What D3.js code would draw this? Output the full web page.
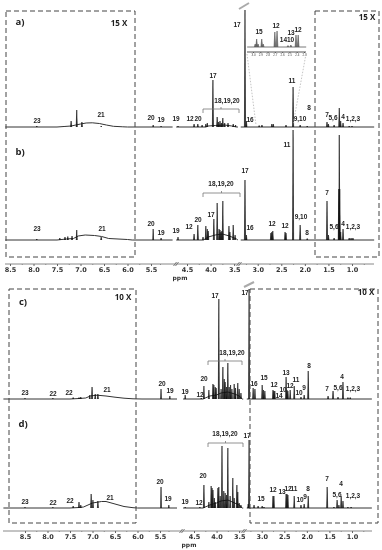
<!DOCTYPE html>
<html>
<head>
<meta charset="utf-8">
<script src="https://cdn.jsdelivr.net/npm/d3@7"></script>
<style>
  html, body { margin: 0; padding: 0; background: #fff; }
  svg { display: block; filter: blur(0.3px); }
</style>
</head>
<body>
<div id="chart"></div>
<script>
// ppm axis
const tickLabels = [8.5, 8.0, 7.5, 7.0, 6.5, 6.0, 5.5, 4.5, 4.0, 3.5, 3.0, 2.5, 2.0, 1.5, 1.0];
const minorTicks = [8.25, 7.75, 7.25, 6.75, 6.25, 5.75, 5.25, 4.25, 3.75, 3.25, 2.75, 2.25, 1.75, 1.25, 0.75];
const insetTicks = [3.0, 2.9, 2.8, 2.7, 2.6, 2.5, 2.4, 2.3];

// baseline + broad hump, [ppm, intensity], null = cut in the spectrum
const humpA = [[8.6,0],[7.5,0],[7.35,0.5],[7.2,1],[7.1,2],[7.0,3],[6.88,4],[6.75,4.2],[6.6,3.5],[6.45,2],[6.3,0.7],[6.1,0.2],[6.0,0],[4.9,0],[4.85,null],[4.8,0],[4.1,0],[4.05,1],[3.9,1.5],[3.7,2],[3.55,1],[3.45,0],[3.42,0],[3.39,null],[3.36,0],[0.53,0]];
const humpB = [[8.6,0],[7.5,0],[7.3,1],[7.15,1.5],[7.05,4],[6.9,5],[6.7,4.5],[6.55,3.5],[6.4,1.5],[6.0,0.5],[5.9,0],[4.9,0],[4.85,null],[4.8,0],[4.15,0],[4.05,3],[3.9,5],[3.75,6],[3.6,4],[3.45,1],[3.42,0],[3.39,null],[3.36,0],[0.53,0]];
const humpC = [[8.98,0],[7.5,0],[7.3,0.5],[7.15,1],[7.05,3],[6.9,3.8],[6.7,3],[6.5,1.8],[6.3,0.8],[6.1,0.2],[5.9,0],[5.0,0],[4.95,null],[4.82,0],[4.3,0],[4.15,3],[4.0,4],[3.9,6],[3.75,7],[3.6,5],[3.5,3],[3.43,0],[3.41,0],[3.38,null],[3.33,0],[0.56,0]];
const humpD = [[8.98,0],[7.5,0],[7.3,0.5],[7.2,1],[7.1,3],[7.0,5],[6.8,6.5],[6.7,6.5],[6.5,4],[6.3,1.5],[6.1,0.3],[6.0,0],[5.0,0],[4.95,null],[4.82,0],[4.3,0],[4.15,3],[4.0,5],[3.9,7],[3.75,8],[3.6,5],[3.5,3],[3.43,0],[3.41,0],[3.38,null],[3.33,0],[0.56,0]];

// resolved peaks, [ppm, intensity]
const peaksA = [[7.93,1],[7.2,6],[7.08,17],[6.97,5],[6.56,1],[5.44,2],[5.22,1],[4.75,1],[4.35,3],[4.27,3],[4.18,2],[4.10,3],[4.07,4],[3.95,47],[3.86,10],[3.83,5],[3.80,6],[3.77,4],[3.74,9],[3.70,4],[3.63,4],[3.52,3],[3.47,2],[3.27,117],[3.24,6],[2.97,1.5],[2.91,2],[2.70,3],[2.67,3],[2.40,2],[2.25,40],[2.10,2],[1.95,1],[1.53,5],[1.50,3],[1.38,2],[1.27,19],[1.24,6],[1.19,4],[1.06,1],[1.0,1]];
const peaksB = [[7.93,1],[7.44,2],[7.33,3],[7.27,3.5],[7.18,4],[7.08,10],[6.56,3],[5.44,11],[5.22,2],[4.75,3],[4.35,6],[4.27,15],[4.16,3],[4.10,14],[4.07,11],[4.05,9],[3.93,21],[3.86,37],[3.82,11],[3.80,10],[3.78,8],[3.76,9],[3.74,39],[3.61,14],[3.59,8],[3.52,15],[3.48,5],[3.27,60],[3.24,5],[2.72,7],[2.70,8],[2.68,9],[2.42,8],[2.40,7],[2.25,110],[2.10,15],[1.95,1.5],[1.53,39],[1.50,5],[1.38,2],[1.28,51],[1.27,105],[1.26,51],[1.24,8],[1.19,11],[1.06,2],[1.02,2],[0.98,2]];
const peaksC = [[8.5,0.8],[7.88,0.8],[7.43,1.5],[7.3,1.5],[7.26,2],[7.06,4],[7.01,12],[6.94,5],[6.88,5],[5.47,10],[5.21,3],[4.76,4],[4.34,1],[4.28,13],[4.17,9],[4.08,15],[4.06,14],[4.03,12],[4.01,11],[3.95,100],[3.90,10],[3.86,32],[3.83,20],[3.81,17],[3.78,12],[3.75,36],[3.72,12],[3.69,14],[3.66,10],[3.61,15],[3.58,11],[3.53,16],[3.50,10],[3.46,6],[3.28,110],[3.19,11],[3.15,10],[2.99,14],[2.96,9],[2.93,8],[2.75,9],[2.73,8],[2.71,8],[2.46,22],[2.44,9],[2.42,8],[2.37,9],[2.28,13],[2.13,2],[2.06,4],[1.97,28],[1.53,3],[1.42,8],[1.31,2],[1.20,17],[1.09,1.5],[1.04,1.5]];
const peaksD = [[8.5,0.8],[7.88,0.8],[7.43,2],[7.30,6],[7.26,3],[7.03,14],[6.99,8],[6.88,7],[5.47,21],[5.24,3],[4.76,1],[4.37,1],[4.28,23],[4.17,6],[4.12,22],[4.10,20],[4.08,18],[4.05,10],[4.03,6],[3.97,20],[3.95,21],[3.92,12],[3.88,62],[3.84,17],[3.81,15],[3.78,13],[3.75,60],[3.70,12],[3.64,30],[3.61,10],[3.55,23],[3.53,16],[3.50,5],[3.46,3],[3.30,4],[3.28,68],[3.17,3],[3.08,2],[2.99,2],[2.95,1],[2.75,12],[2.73,12],[2.46,14],[2.44,14],[2.42,13],[2.28,12],[2.13,3],[2.06,4],[1.97,12],[1.55,21],[1.40,1],[1.33,8],[1.29,3],[1.24,12],[1.20,7],[1.09,1],[1.02,1]];

// zoomed inset of panel a, [ppm, intensity]
const insetBase = [[3.08,0],[2.27,0]];
const insetPeaks = [[2.97,3],[2.95,8],[2.93,3],[2.88,8],[2.86,3],[2.70,15],[2.67,16],[2.52,1.5],[2.48,2],[2.41,12],[2.38,12]];

// peak assignments: [text, px, py]
const labelsA = [["23",37,121],["21",101,115],["20",151,118],["19",161,120],["19",176,119],["12",190,119],["20",198,119],["17",213,76],["18,19,20",227,101],["17",237,25],["16",250,120],["15",259,32],["12",276,26],["13",291,33],["12",298,30],["1410",287,40],["11",292,81],["8",309,108],["9,10",300,119],["7",327,115],["5,6",333,118],["4",343,117],["1,2,3",353,119]];
const labelsB = [["23",37,229],["21",102,229],["20",151,224],["19",161,233],["19",176,231],["12",189,227],["20",198,220],["17",211,215],["18,19,20",221,184],["17",245,171],["16",250,228],["12",272,224],["12",285,226],["11",287,145],["9,10",301,217],["8",307,233],["7",327,193],["5,6",334,227],["4",343,224],["1,2,3",353,227]];
const labelsC = [["23",25,393],["22",53,394],["22",69,393],["21",107,390],["20",162,384],["19",170,391],["19",185,392],["12",200,395],["20",204,379],["17",215,296],["18,19,20",232,353],["17",245,293],["16",254,384],["15",264,378],["12",274,385],["14",279,396],["10",283,390],["13",286,373],["12",290,386],["11",296,380],["10",299,393],["9",304,388],["8",309,366],["7",327,389],["5,6",338,388],["4",342,377],["1,2,3",353,389]];
const labelsD = [["23",25,502],["22",53,503],["22",70,501],["21",110,498],["20",160,482],["19",168,499],["19",185,502],["12",199,503],["20",203,476],["18,19,20",225,434],["17",247,436],["15",261,499],["12",273,490],["13",282,492],["12",288,489],["11",294,489],["10",300,500],["9",305,497],["8",308,489],["7",327,479],["5,6",337,495],["4",341,484],["1,2,3",353,496]];

const width = 382, height = 550;

const svg = d3.select("#chart").append("svg")
    .attr("width", width)
    .attr("height", height);

// spectra are cut between 5.5 and 4.5, so the scale has two pieces
const xTop = d3.scaleLinear().domain([8.5, 5.5, 4.5, 1.0]).range([10, 151, 187, 352]);
const xBottom = d3.scaleLinear().domain([8.5, 5.5, 4.5, 1.0]).range([25, 160, 194, 352]);
const xInset = d3.scaleLinear().domain([3.0, 2.3]).range([253, 304]);

function spectrum(x, base, hump, peaks, labels) {
  const y = d3.scaleLinear().domain([0, 100]).range([base, base - 100]);
  const line = d3.line()
      .defined(function(d) { return d[1] !== null; })
      .x(function(d) { return x(d[0]); })
      .y(function(d) { return y(d[1]); });

  svg.append("path")
      .attr("d", line(hump))
      .attr("fill", "none")
      .attr("stroke", "#333")
      .attr("stroke-width", 1);

  svg.append("g").selectAll("path")
    .data(peaks)
    .join("path")
      .attr("d", function(d) { return line([[d[0] + 0.012, 0], [d[0], d[1]], [d[0] - 0.012, 0]]); })
      .attr("fill", "#111")
      .attr("stroke", "#111")
      .attr("stroke-width", 0.6);

  svg.append("g").selectAll("text")
    .data(labels)
    .join("text")
      .attr("x", function(d) { return d[1]; })
      .attr("y", function(d) { return d[2]; })
      .attr("text-anchor", "middle")
      .attr("dominant-baseline", "middle")
      .style("font", "bold 6.5px 'Liberation Sans', sans-serif")
      .style("fill", "#222")
      .text(function(d) { return d[0]; });
}

spectrum(xTop, 127, humpA, peaksA, labelsA);
spectrum(xTop, 240, humpB, peaksB, labelsB);
spectrum(xBottom, 399, humpC, peaksC, labelsC);
spectrum(xBottom, 508, humpD, peaksD, labelsD);

// inset of panel a
const yInset = d3.scaleLinear().domain([0, 100]).range([47, -53]);
const insetLine = d3.line()
    .x(function(d) { return xInset(d[0]); })
    .y(function(d) { return yInset(d[1]); });
svg.append("path")
    .attr("d", insetLine(insetBase))
    .attr("stroke", "#555")
    .attr("fill", "none")
    .attr("stroke-width", 0.8);
svg.append("g").selectAll("path")
  .data(insetPeaks)
  .join("path")
    .attr("d", function(d) { return insetLine([[d[0] + 0.012, 0], [d[0], d[1]], [d[0] - 0.012, 0]]); })
    .attr("fill", "#666")
    .attr("stroke", "#555")
    .attr("stroke-width", 0.6);

const insetAxis = svg.append("g")
    .attr("transform", "translate(0,52)")
    .call(d3.axisBottom(xInset).tickValues(insetTicks).tickSize(1).tickPadding(1).tickFormat(d3.format(".1f")));
insetAxis.select(".domain").attr("stroke", "#555").attr("d", "M247,0H306");
insetAxis.selectAll("line").attr("stroke", "#555");
insetAxis.selectAll("text").style("font", "3px 'Liberation Sans', sans-serif").style("fill", "#444");

// lines from the inset down to the zoomed region
[[247, 54, 256, 125], [306, 54, 293, 125]].forEach(function(l) {
  svg.append("line")
      .attr("x1", l[0]).attr("y1", l[1]).attr("x2", l[2]).attr("y2", l[3])
      .attr("stroke", "#aaa")
      .attr("stroke-width", 0.7)
      .attr("stroke-dasharray", "1.5,1.5");
});

// ppm axes
function ppmAxis(x, yPos, x0, x1, cuts, ppmX, ppmY) {
  const major = svg.append("g")
      .attr("transform", `translate(0,${yPos})`)
      .call(d3.axisBottom(x).tickValues(tickLabels).tickSize(2).tickPadding(1).tickFormat(d3.format(".1f")));
  major.select(".domain").attr("stroke", "#888").attr("d", `M${x0},0H${x1}`);
  major.selectAll("line").attr("stroke", "#666");
  major.selectAll("text")
      .style("font", "bold 6.5px 'DejaVu Sans', sans-serif")
      .style("fill", "#333");

  const minor = svg.append("g")
      .attr("transform", `translate(0,${yPos})`)
      .call(d3.axisBottom(x).tickValues(minorTicks).tickSize(1).tickFormat(""));
  minor.select(".domain").remove();
  minor.selectAll("line").attr("stroke", "#888");

  cuts.forEach(function(c) {
    svg.append("line")
        .attr("x1", c - 1.5).attr("y1", yPos + 2).attr("x2", c + 1.5).attr("y2", yPos - 2)
        .attr("stroke", "#777");
    svg.append("line")
        .attr("x1", c + 0.5).attr("y1", yPos + 2).attr("x2", c + 3.5).attr("y2", yPos - 2)
        .attr("stroke", "#777");
  });

  svg.append("text")
      .attr("x", ppmX)
      .attr("y", ppmY)
      .attr("text-anchor", "middle")
      .attr("dominant-baseline", "middle")
      .style("font", "bold 6px 'DejaVu Sans', sans-serif")
      .style("fill", "#333")
      .text("ppm");
}
ppmAxis(xTop, 264, 5, 374, [175, 238], 180, 278);
ppmAxis(xBottom, 531, 3, 372, [181, 243], 189, 545);

// dashed zoom boxes
[[6, 11, 135, 257], [315, 11, 379, 257], [9, 289, 136, 523], [250, 289, 378, 523]].forEach(function(b) {
  svg.append("rect")
      .attr("x", b[0]).attr("y", b[1])
      .attr("width", b[2] - b[0]).attr("height", b[3] - b[1])
      .attr("fill", "none")
      .attr("stroke", "#444")
      .attr("stroke-width", 1)
      .attr("stroke-dasharray", "5,3");
});

// brackets over 18,19,20
[[203, 239, 109], [203, 240, 193], [208, 242, 361], [208, 243, 443]].forEach(function(b) {
  const mid = (b[0] + b[1]) / 2;
  svg.append("path")
      .attr("d", `M${b[0]},${b[2] + 4}V${b[2]}H${b[1]}V${b[2] + 4}M${mid},${b[2]}V${b[2] - 2}`)
      .attr("fill", "none")
      .attr("stroke", "#777")
      .attr("stroke-width", 0.8);
});

// cut marks on top of the tallest peak
[[239, 9, 249, 3], [244, 287, 254, 282]].forEach(function(l) {
  svg.append("line")
      .attr("x1", l[0]).attr("y1", l[1]).attr("x2", l[2]).attr("y2", l[3])
      .attr("stroke", "#aaa")
      .attr("stroke-width", 2);
});

// panel letters and zoom factors
[["a)", 20, 22], ["b)", 20, 152], ["c)", 23, 302], ["d)", 23, 424]].forEach(function(t) {
  svg.append("text")
      .attr("x", t[1]).attr("y", t[2])
      .attr("text-anchor", "middle")
      .attr("dominant-baseline", "middle")
      .style("font", "bold 9.5px 'Open Sans', sans-serif")
      .style("fill", "#222")
      .text(t[0]);
});
[["15 X", 119, 24], ["15 X", 367, 18], ["10 X", 123, 298], ["10 X", 366, 293]].forEach(function(t) {
  svg.append("text")
      .attr("x", t[1]).attr("y", t[2])
      .attr("text-anchor", "middle")
      .attr("dominant-baseline", "middle")
      .style("font", "bold 8px 'Open Sans', sans-serif")
      .style("fill", "#222")
      .text(t[0]);
});
</script>
</body>
</html>
